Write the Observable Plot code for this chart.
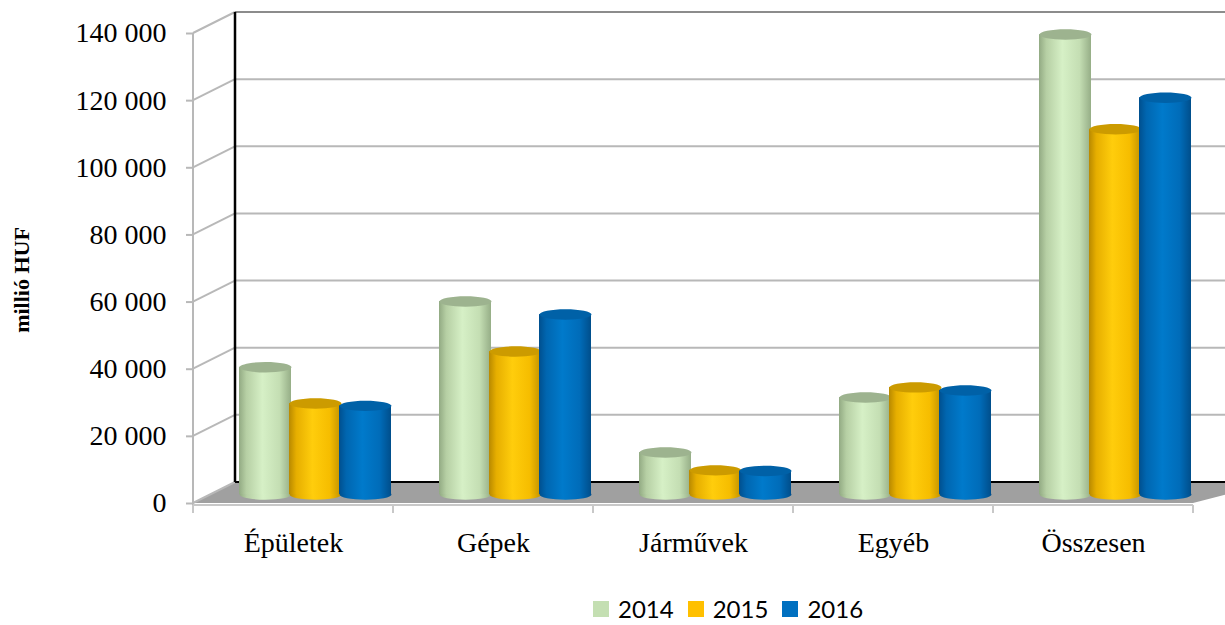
<!DOCTYPE html>
<html><head><meta charset="utf-8">
<script src="https://cdn.jsdelivr.net/npm/d3@7"></script>
<script src="https://cdn.jsdelivr.net/npm/@observablehq/plot@0.6"></script>
<style>
body{margin:0;background:#fff;overflow:hidden;}
#legend{display:flex;align-items:center;margin-left:593px;margin-top:16px;font-family:Lato,"Open Sans",sans-serif;font-size:24px;color:#000;line-height:26px;height:26px;}
.item{display:flex;align-items:center;margin-right:14px;}
.sw{width:16px;height:16px;display:inline-block;margin-right:9px;}
</style></head><body>
<div id="chart"></div>
<div id="legend"></div>
<script>
// ---- data ----
const categories = ["Épületek", "Gépek", "Járművek", "Egyéb", "Összesen"];
const years = ["2014", "2015", "2016"];
const values2014 = [37900, 57500, 12500, 28900, 137000];
const values2015 = [27100, 42600, 7200, 31900, 108800];
const values2016 = [26400, 53600, 7000, 31000, 118200];
const yTicks = [0, 20000, 40000, 60000, 80000, 100000, 120000, 140000];
const yTitle = "millió HUF";

// ---- styles ----
const legendColors = ["#c4dfb2", "#ffc000", "#0070c0"];
const capColors = ["#9db38f", "#cc9b00", "#0061a7"];
const gradStops = [
  [["0%","#92aa83"],["14%","#b6cfa4"],["45%","#d6f0c6"],["78%","#c4deb3"],["100%","#96ae87"]],
  [["0%","#b88900"],["14%","#e6ae00"],["45%","#ffcd0c"],["78%","#f6bd00"],["100%","#c29200"]],
  [["0%","#004f8e"],["14%","#0066b0"],["45%","#007acb"],["78%","#006cb9"],["100%","#004e8b"]]
];
const DX = 42, DY = -21;        // depth of the 3D box
const BDX = 22, BDY = -9;       // bars placed at mid depth
const STEP = 50;                // spacing of the cylinders inside a group

const series = [values2014, values2015, values2016];
const rows = categories.map((c, i) => {
  const r = {category: c};
  years.forEach((y, k) => r[y] = series[k][i]);
  return r;
});

const fmt = d => d3.format(",")(d).replace(/,/g, " ");

// ellipse symbol for cylinder caps
const ellipse = {
  draw(ctx, size) {
    const rx = Math.sqrt(size / Math.PI), ry = rx * 0.2, k = 0.5523;
    ctx.moveTo(rx, 0);
    ctx.bezierCurveTo(rx, ry * k, rx * k, ry, 0, ry);
    ctx.bezierCurveTo(-rx * k, ry, -rx, ry * k, -rx, 0);
    ctx.bezierCurveTo(-rx, -ry * k, -rx * k, -ry, 0, -ry);
    ctx.bezierCurveTo(rx * k, -ry, rx, -ry * k, rx, 0);
    ctx.closePath();
  }
};

function defs() {
  const d = d3.create("svg:defs");
  gradStops.forEach((stops, k) => {
    const g = d.append("linearGradient").attr("id", "cyl" + k)
      .attr("x1", "0").attr("x2", "1").attr("y1", "0").attr("y2", "0");
    stops.forEach(([o, c]) => g.append("stop").attr("offset", o).attr("stop-color", c));
  });
  return d.node();
}

function backdrop(index, scales, values, dims) {
  const x = scales.x, y = scales.y;
  const bw = x.bandwidth();
  const x0 = x(categories[0]), x1 = x(categories[categories.length - 1]) + bw;
  const y0 = y(0), yTop = y(yTicks[yTicks.length - 1]);
  const W = dims.width;
  const g = d3.create("svg:g");
  // floor
  g.append("polygon")
    .attr("points", [[x0, y0], [x0 + DX, y0 + DY], [x1 + DX + 40, y0 + DY], [x1, y0]].map(p => p.join(",")).join(" "))
    .attr("fill", "#a0a0a0");
  // back wall grid lines and diagonals
  yTicks.forEach(t => {
    if (t === 0) return;
    const yy = y(t);
    g.append("line").attr("x1", x0 + DX).attr("x2", W).attr("y1", yy + DY).attr("y2", yy + DY)
      .attr("stroke", t === yTicks[yTicks.length - 1] ? "#8c8c8c" : "#b8b8b8").attr("stroke-width", 2);
  });
  yTicks.forEach(t => {
    const yy = y(t);
    g.append("line").attr("x1", x0).attr("x2", x0 + DX).attr("y1", yy).attr("y2", yy + DY)
      .attr("stroke", "#b8b8b8").attr("stroke-width", 2);
  });
  // floor back edge
  g.append("line").attr("x1", x0 + DX).attr("x2", W).attr("y1", y0 + DY).attr("y2", y0 + DY)
    .attr("stroke", "#000").attr("stroke-width", 2);
  // back wall left edge
  g.append("line").attr("x1", x0 + DX).attr("x2", x0 + DX).attr("y1", yTop + DY).attr("y2", y0 + DY)
    .attr("stroke", "#000").attr("stroke-width", 2.5);
  // front vertical axis
  g.append("line").attr("x1", x0).attr("x2", x0).attr("y1", yTop).attr("y2", y0 + 2)
    .attr("stroke", "#b8b8b8").attr("stroke-width", 2);
  // front bottom edge and category separators
  g.append("line").attr("x1", x0).attr("x2", x1).attr("y1", y0 + 2).attr("y2", y0 + 2)
    .attr("stroke", "#c8c8c8").attr("stroke-width", 2);
  categories.concat([null]).forEach((c, i) => {
    const xx = c == null ? x1 : x(c);
    g.append("line").attr("x1", xx).attr("x2", xx).attr("y1", y0 + 2).attr("y2", y0 + 10)
      .attr("stroke", "#c8c8c8").attr("stroke-width", 2);
  });
  // y-axis title
  g.append("text").attr("transform", `translate(29,${(yTop + y0) / 2 + 12}) rotate(-90)`)
    .attr("text-anchor", "middle").attr("font-weight", "bold").attr("font-size", 22)
    .attr("font-family", "'Liberation Serif','Times New Roman',serif").text(yTitle);
  return g.node();
}

const cylinderMarks = [];
years.forEach((yr, k) => {
  const off = (k - 1) * STEP + BDX;
  cylinderMarks.push(
    Plot.dot(rows, {x: "category", y: () => 0, r: 26, symbol: ellipse, fill: `url(#cyl${k})`, stroke: "none", dx: off, dy: BDY}),
    Plot.barY(rows, {x: "category", y: yr, fill: `url(#cyl${k})`, insetLeft: 74, insetRight: 74, dx: off, dy: BDY}),
    Plot.dot(rows, {x: "category", y: yr, r: 26, symbol: ellipse, fill: capColors[k], stroke: "none", dx: off, dy: BDY})
  );
});

const chart = Plot.plot({
  width: 1225,
  height: 580,
  marginLeft: 193,
  marginRight: 32,
  marginTop: 33,
  marginBottom: 77,
  x: {domain: categories, padding: 0},
  y: {domain: [0, 140000]},
  style: {fontFamily: "'Liberation Serif','Times New Roman',serif", fontSize: "28px", color: "#000", background: "#fff", overflow: "visible"},
  marks: [
    defs,
    backdrop,
    ...cylinderMarks,
    Plot.axisY({ticks: yTicks, tickSize: 7, tickPadding: 20, stroke: "#b8b8b8", strokeWidth: 2, tickFormat: fmt, label: null, fontSize: 28}),
    Plot.axisX({tickSize: 0, tickPadding: 29, label: null, fontSize: 28})
  ]
});
document.getElementById("chart").appendChild(chart);

const legend = document.getElementById("legend");
years.forEach((yr, k) => {
  const it = document.createElement("div");
  it.className = "item";
  it.innerHTML = `<span class="sw" style="background:${legendColors[k]}"></span><span>${yr}</span>`;
  legend.appendChild(it);
});
</script>
</body></html>
